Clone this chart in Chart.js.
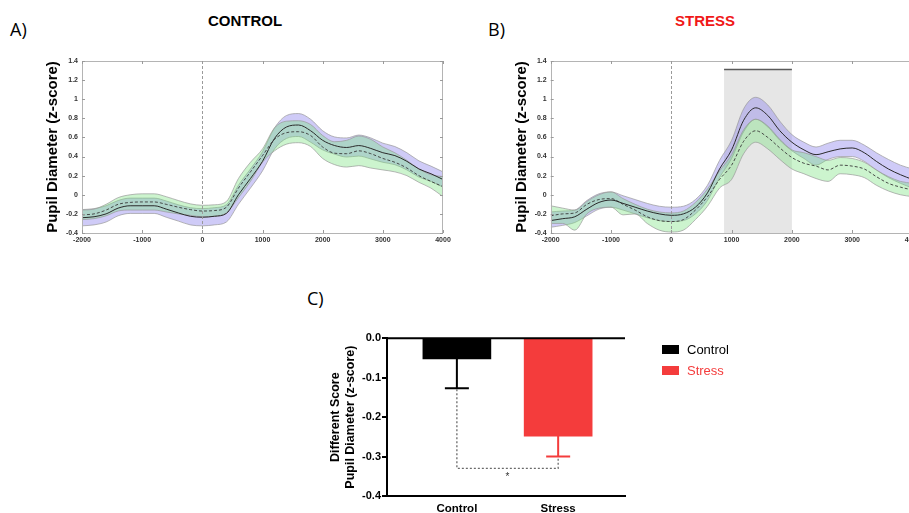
<!DOCTYPE html>
<html><head><meta charset="utf-8">
<script src="https://cdn.jsdelivr.net/npm/chart.js@4.4.1/dist/chart.umd.min.js"></script>
<style>
html,body{margin:0;padding:0;width:909px;height:513px;overflow:hidden;background:#fff;}
body{position:relative;font-family:"Liberation Sans",Arial,sans-serif;}
canvas{position:absolute;}
.abs{position:absolute;white-space:nowrap;}
.letter{font-family:"Open Sans","Liberation Sans",sans-serif;font-size:18px;line-height:18px;color:#000;}
.ttl{font-weight:bold;font-size:15px;line-height:15px;transform:translateX(-50%);}
.leg{font-size:13px;line-height:13px;}
</style></head>
<body>
<canvas id="chartA" width="460" height="200" style="left:0;top:50px;width:460px;height:200px"></canvas>
<canvas id="chartB" width="470" height="200" style="left:460px;top:50px;width:470px;height:200px"></canvas>
<canvas id="chartC" width="420" height="193" style="left:300px;top:320px;width:420px;height:193px"></canvas>
<div class="abs letter" style="left:10px;top:20px">A)</div>
<div class="abs letter" style="left:488px;top:20px">B)</div>
<div class="abs letter" style="left:307px;top:289px">C)</div>
<div class="abs ttl" style="left:245px;top:13px;color:#000">CONTROL</div>
<div class="abs ttl" style="left:705px;top:13px;color:#f01818">STRESS</div>
<div id="legendC"></div>
<script>
// ---------- data ----------
const timeMs = [-2000,-1800,-1600,-1400,-1200,-1000,-800,-600,-400,-200,0,200,400,600,800,1000,1200,1400,1600,1800,2000,2200,2400,2600,2800,3000,3200,3400,3600,3800,4000];
const xTickValues = [-2000,-1000,0,1000,2000,3000,4000];
const yTickValues = [-0.4,-0.2,0,0.2,0.4,0.6,0.8,1,1.2,1.4];

// Panel A (CONTROL): solid-line group (purple band) and dashed-line group (green band)
const controlSolidUpper = [-0.155,-0.145,-0.115,-0.06,-0.035,-0.035,-0.035,-0.065,-0.105,-0.135,-0.145,-0.135,-0.105,0.10,0.27,0.45,0.70,0.83,0.85,0.79,0.67,0.605,0.595,0.625,0.595,0.54,0.505,0.44,0.355,0.30,0.24];
const controlSolidMean  = [-0.24,-0.23,-0.20,-0.14,-0.115,-0.115,-0.115,-0.15,-0.19,-0.225,-0.235,-0.225,-0.195,0.0,0.17,0.35,0.59,0.71,0.73,0.67,0.57,0.515,0.495,0.515,0.485,0.44,0.41,0.35,0.27,0.22,0.16];
const controlSolidLower = [-0.325,-0.315,-0.285,-0.22,-0.195,-0.195,-0.195,-0.235,-0.275,-0.315,-0.325,-0.315,-0.285,-0.10,0.07,0.25,0.48,0.59,0.61,0.55,0.47,0.425,0.395,0.405,0.375,0.34,0.315,0.26,0.185,0.14,0.08];
const controlDashUpper  = [-0.16,-0.15,-0.10,-0.03,0.0,0.01,0.01,-0.02,-0.06,-0.095,-0.11,-0.105,-0.07,0.17,0.34,0.48,0.70,0.77,0.775,0.735,0.62,0.555,0.57,0.615,0.58,0.50,0.44,0.36,0.27,0.21,0.19];
const controlDashMean   = [-0.21,-0.20,-0.16,-0.10,-0.08,-0.075,-0.075,-0.10,-0.13,-0.155,-0.17,-0.165,-0.13,0.07,0.24,0.41,0.58,0.65,0.66,0.62,0.50,0.435,0.43,0.46,0.43,0.38,0.34,0.28,0.20,0.14,0.085];
const controlDashLower  = [-0.26,-0.25,-0.22,-0.17,-0.16,-0.16,-0.16,-0.18,-0.20,-0.215,-0.23,-0.225,-0.19,-0.03,0.14,0.34,0.46,0.53,0.545,0.505,0.38,0.315,0.29,0.305,0.28,0.26,0.24,0.20,0.13,0.07,-0.02];

// Panel B (STRESS)
const stressSolidUpper = [-0.18,-0.17,-0.16,-0.06,0.01,0.03,-0.01,-0.05,-0.09,-0.12,-0.13,-0.12,-0.05,0.10,0.36,0.57,0.90,1.02,0.94,0.77,0.63,0.55,0.50,0.54,0.57,0.57,0.52,0.44,0.37,0.31,0.27];
const stressSolidMean  = [-0.27,-0.25,-0.23,-0.15,-0.08,-0.055,-0.09,-0.13,-0.17,-0.20,-0.215,-0.20,-0.13,0.02,0.27,0.47,0.78,0.91,0.83,0.67,0.55,0.47,0.42,0.45,0.48,0.49,0.44,0.35,0.27,0.21,0.16];
const stressSolidLower = [-0.34,-0.32,-0.29,-0.22,-0.15,-0.13,-0.16,-0.20,-0.24,-0.27,-0.28,-0.27,-0.20,-0.06,0.18,0.38,0.66,0.79,0.71,0.57,0.46,0.38,0.31,0.37,0.40,0.40,0.35,0.26,0.18,0.12,0.07];
const stressDashUpper  = [-0.115,-0.14,-0.16,-0.07,0.0,0.03,-0.04,-0.10,-0.15,-0.18,-0.19,-0.17,-0.08,0.06,0.25,0.42,0.68,0.79,0.72,0.58,0.47,0.44,0.40,0.36,0.39,0.38,0.34,0.26,0.19,0.14,0.12];
const stressDashMean   = [-0.22,-0.20,-0.19,-0.10,-0.05,-0.04,-0.10,-0.16,-0.23,-0.27,-0.28,-0.26,-0.16,-0.02,0.16,0.31,0.56,0.67,0.60,0.49,0.39,0.33,0.30,0.26,0.31,0.30,0.27,0.19,0.12,0.08,0.05];
const stressDashLower  = [-0.30,-0.30,-0.37,-0.20,-0.14,-0.13,-0.21,-0.20,-0.30,-0.37,-0.39,-0.37,-0.26,-0.12,0.07,0.16,0.43,0.55,0.48,0.37,0.27,0.22,0.17,0.14,0.22,0.21,0.18,0.10,0.04,0.0,-0.02];
const stressWindowMs = [875, 2000];
const stressWindowLevel = 1.31;

// Panel C
const barCategories = ['Control','Stress'];
const barMeans = [-0.052,-0.248];
const barSems = [0.075,0.052];
const barColors = ['#000000','#f43c3c'];
const barTickValues = [-0.4,-0.3,-0.2,-0.1,0];
const sigBracketLevel = -0.33;

// ---------- drawing ----------
Chart.defaults.font.family = "'Liberation Sans', Arial, sans-serif";
const pts = arr => arr.map((v,i)=>({x:timeMs[i], y:v}));

const panelDecor = {
  id:'panelDecor',
  beforeDatasetsDraw(chart, args, o){
    const {ctx, chartArea:a, scales:{x,y}} = chart;
    if (o.shade){
      const x0 = x.getPixelForValue(o.shade[0]), x1 = x.getPixelForValue(o.shade[1]);
      const y0 = y.getPixelForValue(o.level);
      ctx.save();
      ctx.fillStyle = '#e6e6e6';
      ctx.fillRect(x0, y0, x1-x0, a.bottom-y0);
      ctx.restore();
    }
  },
  afterDatasetsDraw(chart, args, o){
    const {ctx, chartArea:a, scales:{x,y}} = chart;
    ctx.save();
    const xz = Math.round(x.getPixelForValue(0))+0.5;
    ctx.strokeStyle = '#9a9a9a'; ctx.lineWidth = 1; ctx.setLineDash([3,2]);
    ctx.beginPath(); ctx.moveTo(xz, a.top); ctx.lineTo(xz, a.bottom); ctx.stroke();
    ctx.setLineDash([]);
    if (o.shade){
      const yl = y.getPixelForValue(o.level);
      ctx.strokeStyle = '#5a5a5a'; ctx.lineWidth = 1.5;
      ctx.beginPath(); ctx.moveTo(x.getPixelForValue(o.shade[0]), yl); ctx.lineTo(x.getPixelForValue(o.shade[1]), yl); ctx.stroke();
    }
    ctx.strokeStyle = '#b4b4b4'; ctx.lineWidth = 1;
    ctx.strokeRect(Math.round(a.left)+0.5, Math.round(a.top)+0.5, Math.round(a.right-a.left)-1, Math.round(a.bottom-a.top));
    ctx.strokeStyle = '#9a9a9a';
    ctx.beginPath();
    xTickValues.forEach(v=>{ const px = Math.round(x.getPixelForValue(v))+0.5;
      ctx.moveTo(px, a.bottom); ctx.lineTo(px, a.bottom-3); ctx.moveTo(px, a.top); ctx.lineTo(px, a.top+3); });
    yTickValues.forEach(v=>{ const py = Math.round(y.getPixelForValue(v))+0.5;
      ctx.moveTo(a.left, py); ctx.lineTo(a.left+3, py); ctx.moveTo(a.right, py); ctx.lineTo(a.right-3, py); });
    ctx.stroke();
    ctx.restore();
  }
};

function bandChart(id, g, pad, yWidth, decor){
  const edge = {borderColor:'#999999', borderWidth:0.7, pointRadius:0, fill:false};
  // datasets are painted last-to-first: purple band first, green band over it, mean lines on top
  return new Chart(document.getElementById(id), {
    type:'line',
    data:{datasets:[
      {data:pts(g.sMean), borderColor:'#2a2a2a', borderWidth:1, pointRadius:0, fill:false},
      {data:pts(g.dMean), borderColor:'#3a3a3a', borderWidth:0.9, borderDash:[3,2], pointRadius:0, fill:false},
      Object.assign({}, edge, {data:pts(g.dUp)}),
      Object.assign({}, edge, {data:pts(g.dLo), fill:'-1', backgroundColor:'rgba(120,225,125,0.38)'}),
      Object.assign({}, edge, {data:pts(g.sUp)}),
      Object.assign({}, edge, {data:pts(g.sLo), fill:'-1', backgroundColor:'rgba(140,132,236,0.42)'})
    ]},
    options:{
      responsive:false, animation:false, events:[],
      layout:{padding:pad},
      elements:{line:{cubicInterpolationMode:'monotone'}, point:{radius:0}},
      plugins:{legend:{display:false}, tooltip:{enabled:false}, panelDecor:decor},
      scales:{
        x:{type:'linear', min:-2000, max:4000,
           afterBuildTicks:s=>{ s.ticks = xTickValues.map(v=>({value:v})); },
           afterFit:s=>{ s.height = 17; },
           grid:{display:false, drawTicks:false}, border:{display:false},
           ticks:{font:{size:7, weight:'bold'}, color:'#333', padding:3, maxRotation:0, autoSkip:false, callback:v=>String(v)}},
        y:{type:'linear', min:-0.4, max:1.4,
           afterBuildTicks:s=>{ s.ticks = yTickValues.map(v=>({value:v})); },
           afterFit:s=>{ s.width = yWidth; },
           grid:{display:false, drawTicks:false}, border:{display:false},
           ticks:{font:{size:7, weight:'bold'}, color:'#333', padding:4, autoSkip:false, callback:v=>String(Math.round(v*10)/10)},
           title:{display:true, text:'Pupil Diameter (z-score)', font:{size:15, weight:'bold'}, color:'#000', padding:0}}
      }
    },
    plugins:[panelDecor]
  });
}

bandChart('chartA', {sUp:controlSolidUpper, sMean:controlSolidMean, sLo:controlSolidLower, dUp:controlDashUpper, dMean:controlDashMean, dLo:controlDashLower},
  {left:44, top:11, right:17, bottom:0}, 38, {});
bandChart('chartB', {sUp:stressSolidUpper, sMean:stressSolidMean, sLo:stressSolidLower, dUp:stressDashUpper, dMean:stressDashMean, dLo:stressDashLower},
  {left:53, top:11, right:17.5, bottom:0}, 37.7, {shade:stressWindowMs, level:stressWindowLevel});

// Panel C
const barDecor = {
  id:'barDecor',
  afterDatasetsDraw(chart){
    const {ctx, chartArea:a, scales:{x,y}} = chart;
    ctx.save();
    ctx.strokeStyle = '#000'; ctx.lineWidth = 2;
    const y0 = y.getPixelForValue(0);
    ctx.beginPath(); ctx.moveTo(a.left-1, y0); ctx.lineTo(a.right, y0); ctx.stroke();
    barMeans.forEach((m,i)=>{
      const xc = x.getPixelForValue(i);
      const yt = y.getPixelForValue(m), ye = y.getPixelForValue(m - barSems[i]);
      ctx.strokeStyle = barColors[i]; ctx.lineWidth = 2;
      ctx.beginPath(); ctx.moveTo(xc, yt); ctx.lineTo(xc, ye);
      ctx.moveTo(xc-12, ye); ctx.lineTo(xc+12, ye); ctx.stroke();
    });
    const xa = x.getPixelForValue(0), xb = x.getPixelForValue(1);
    const ya = y.getPixelForValue(barMeans[0]-barSems[0]), yb = y.getPixelForValue(barMeans[1]-barSems[1]);
    const ys = y.getPixelForValue(sigBracketLevel);
    ctx.strokeStyle = '#6a6a6a'; ctx.lineWidth = 1.3; ctx.setLineDash([2,2]);
    ctx.beginPath(); ctx.moveTo(xa, ya+1); ctx.lineTo(xa, ys); ctx.lineTo(xb, ys); ctx.lineTo(xb, yb+1); ctx.stroke();
    ctx.setLineDash([]);
    ctx.fillStyle = '#333'; ctx.font = '10px "Liberation Sans", Arial'; ctx.textAlign = 'center'; ctx.textBaseline = 'middle';
    ctx.fillText('*', (xa+xb)/2, y.getPixelForValue(-0.352));
    ctx.restore();
  }
};

new Chart(document.getElementById('chartC'), {
  type:'bar',
  data:{datasets:[{data:barMeans.map((v,i)=>({x:i, y:v})), backgroundColor:barColors, borderWidth:0, barThickness:68}]},
  options:{
    responsive:false, animation:false, events:[],
    layout:{padding:{left:28.5, top:18.3, right:95, bottom:0}},
    plugins:{legend:{display:false}, tooltip:{enabled:false}},
    scales:{
      x:{type:'linear', min:-0.69, max:1.66, offset:false,
         afterBuildTicks:s=>{ s.ticks = barCategories.map((c,i)=>({value:i})); },
         afterFit:s=>{ s.height = 17; },
         grid:{display:false, drawTicks:false, offset:false}, border:{display:true, color:'#000', width:2},
         ticks:{font:{size:11.5, weight:'bold'}, color:'#000', padding:6, maxRotation:0, autoSkip:false, callback:v=>barCategories[v]}},
      y:{type:'linear', min:-0.4, max:0,
         afterBuildTicks:s=>{ s.ticks = barTickValues.map(v=>({value:v})); },
         afterFit:s=>{ s.width = 58.5; },
         grid:{display:true, drawOnChartArea:false, drawTicks:true, tickLength:5, color:'#000', lineWidth:2},
         border:{display:true, color:'#000', width:2},
         ticks:{font:{size:11, weight:'bold'}, color:'#000', padding:1, autoSkip:false, callback:v=>Number(v).toFixed(1)},
         title:{display:true, text:['Different Score','Pupil Diameter (z-score)'], font:{size:12.5, weight:'bold'}, color:'#000', padding:0}}
    }
  },
  plugins:[barDecor]
});

const leg = document.getElementById('legendC');
barCategories.forEach((c,i)=>{
  const top = 345 + i*21;
  const box = document.createElement('div');
  box.className = 'abs';
  box.style.cssText = `left:662px;top:${top}px;width:17px;height:9px;background:${barColors[i]}`;
  leg.appendChild(box);
  const t = document.createElement('div');
  t.className = 'abs leg';
  t.style.cssText = `left:687px;top:${top-2}px;color:${i===0?'#000':'#f43c3c'}`;
  t.textContent = c;
  leg.appendChild(t);
});
</script>
</body></html>
